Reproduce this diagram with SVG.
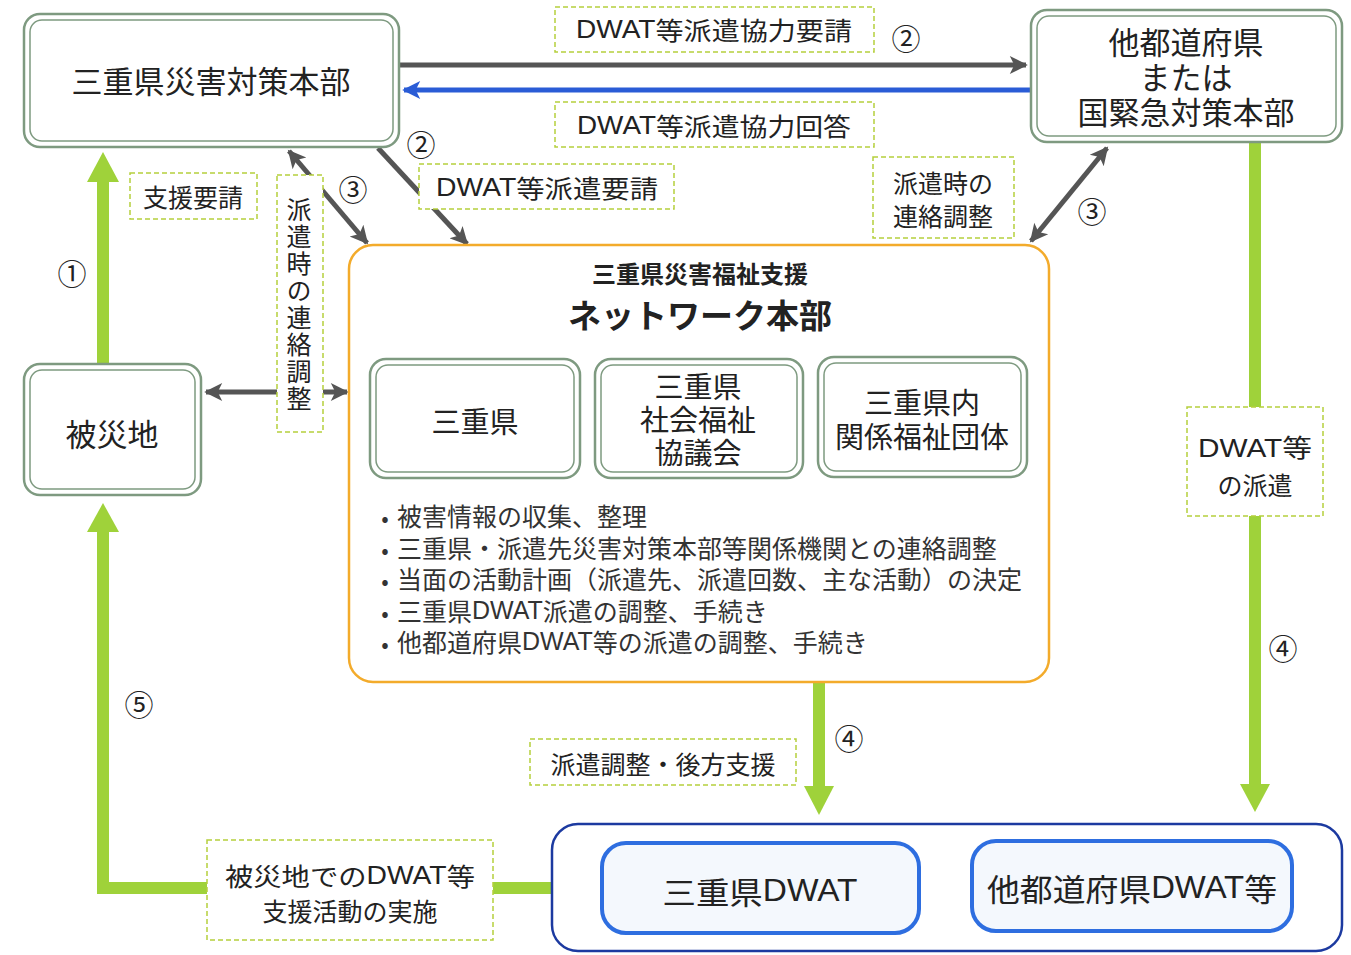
<svg xmlns="http://www.w3.org/2000/svg" width="1351" height="955" viewBox="0 0 1351 955">
<style>
text{font-family:"Noto Sans CJK JP","Noto Sans",sans-serif;fill:#222;dominant-baseline:central;text-anchor:middle}
.L{font-family:"Liberation Sans","Noto Sans CJK JP",sans-serif}
.o{fill:#fff;stroke:#7e9a80;stroke-width:2.5}
.i{fill:none;stroke:#7e9a80;stroke-width:1.5}
.lbl{fill:#fff;stroke:#b5cf3c;stroke-width:1.5;stroke-dasharray:5 3}
.g{stroke:#555;stroke-width:5;fill:none}
.gr{stroke:#9fd23a;stroke-width:12;fill:none}
.grh{fill:#9fd23a}
.n{font-size:29px}
.t30{font-size:31px}
.t25{font-size:25px}
.t29{font-size:29px}
.b{font-size:25px;text-anchor:start;fill:#333}
.bu{font-size:22px;fill:#333}
</style>
<defs>
<marker id="ah" viewBox="0 0 10 10" refX="9" refY="5" markerWidth="22" markerHeight="18" markerUnits="userSpaceOnUse" orient="auto-start-reverse"><path d="M0,0 L10,5 L0,10 L2.5,5 z" fill="#555"/></marker>
<marker id="ahb" viewBox="0 0 10 10" refX="9" refY="5" markerWidth="22" markerHeight="18" markerUnits="userSpaceOnUse" orient="auto-start-reverse"><path d="M0,0 L10,5 L0,10 L2.5,5 z" fill="#2a5cd6"/></marker>
</defs>
<rect width="1351" height="955" fill="#fff"/>

<g id="connectors">
<line class="g" x1="400" y1="65" x2="1026" y2="65" marker-end="url(#ah)"/>
<line x1="1031" y1="90" x2="404" y2="90" stroke="#2a5cd6" stroke-width="5" marker-end="url(#ahb)"/>
<line class="g" x1="378" y1="148" x2="467" y2="244" marker-end="url(#ah)"/>
<line class="g" x1="289" y1="151" x2="367" y2="243" marker-start="url(#ah)" marker-end="url(#ah)"/>
<line class="g" x1="1107" y1="148" x2="1031" y2="241" marker-start="url(#ah)" marker-end="url(#ah)"/>
<line class="g" x1="206" y1="392" x2="347" y2="392" marker-start="url(#ah)" marker-end="url(#ah)"/>
<line class="gr" x1="103" y1="363" x2="103" y2="180"/>
<polygon class="grh" points="87,182 119,182 103,152"/>
<line class="gr" x1="819" y1="683" x2="819" y2="788"/>
<polygon class="grh" points="804,786 834,786 819,815"/>
<line class="gr" x1="1255" y1="143" x2="1255" y2="786"/>
<polygon class="grh" points="1240,784 1270,784 1255,812"/>
<polyline class="gr" points="552,888 103,888 103,530"/>
<polygon class="grh" points="87,532 119,532 103,503"/>
</g>

<g id="n-mie-hq">
<rect class="o" x="24" y="14" width="375" height="133" rx="16"/>
<rect class="i" x="30" y="20" width="363" height="121" rx="12"/>
<text class="t30" x="211" y="79">三重県災害対策本部</text>
</g>

<g id="n-other-hq">
<rect class="o" x="1031" y="10" width="311" height="132" rx="16"/>
<rect class="i" x="1037" y="16" width="299" height="120" rx="12"/>
<text class="t30" x="1186" y="40">他都道府県<tspan x="1186" dy="35">または</tspan><tspan x="1186" dy="35">国緊急対策本部</tspan></text>
</g>

<g id="n-hisaichi">
<rect class="o" x="24" y="364" width="177" height="131" rx="16"/>
<rect class="i" x="30" y="370" width="165" height="119" rx="12"/>
<text class="t30" x="112" y="432">被災地</text>
</g>

<g id="n-network">
<rect x="349" y="245" width="700" height="437" rx="24" fill="#fff" stroke="#f3ab2b" stroke-width="2.5"/>
<text x="700" y="272" style="font-size:24px;font-weight:bold">三重県災害福祉支援</text>
<text x="700" y="314" style="font-size:33px;font-weight:bold">ネットワーク本部</text>
<text class="bu" x="385" y="516">•<tspan x="385" dy="31.5">•</tspan><tspan x="385" dy="31.5">•</tspan><tspan x="385" dy="31.5">•</tspan><tspan x="385" dy="31.5">•</tspan></text>
<text class="b" x="397" y="515">被害情報の収集、整理<tspan x="397" dy="31.5">三重県・派遣先災害対策本部等関係機関との連絡調整</tspan><tspan x="397" dy="31.5">当面の活動計画（派遣先、派遣回数、主な活動）の決定</tspan><tspan x="397" dy="31.5">三重県<tspan class="L">DWAT</tspan>派遣の調整、手続き</tspan><tspan x="397" dy="31.5">他都道府県<tspan class="L">DWAT</tspan>等の派遣の調整、手続き</tspan></text>
</g>

<g id="n-mie">
<rect class="o" x="370" y="359" width="210" height="119" rx="16"/>
<rect class="i" x="376" y="365" width="198" height="107" rx="12"/>
<text class="t29" x="475" y="420">三重県</text>
</g>

<g id="n-shakyo">
<rect class="o" x="595" y="359" width="208" height="119" rx="16"/>
<rect class="i" x="601" y="365" width="196" height="107" rx="12"/>
<text class="t29" x="698" y="385">三重県<tspan x="698" dy="33">社会福祉</tspan><tspan x="698" dy="33">協議会</tspan></text>
</g>

<g id="n-dantai">
<rect class="o" x="818" y="357" width="209" height="120" rx="16"/>
<rect class="i" x="824" y="363" width="197" height="108" rx="12"/>
<text class="t29" x="922" y="401">三重県内<tspan x="922" dy="34">関係福祉団体</tspan></text>
</g>

<g id="n-dwat">
<rect x="552" y="824" width="790" height="127" rx="26" fill="#fff" stroke="#1c3aa0" stroke-width="2.5"/>
</g>

<g id="n-mie-dwat">
<rect x="602" y="843" width="317" height="90" rx="24" fill="#f4f8fd" stroke="#2e6ee0" stroke-width="4"/>
<text x="760" y="890" style="font-size:31px" textLength="195" lengthAdjust="spacingAndGlyphs">三重県<tspan class="L">DWAT</tspan></text>
</g>

<g id="n-other-dwat">
<rect x="972" y="841" width="320" height="90" rx="24" fill="#f4f8fd" stroke="#2e6ee0" stroke-width="4"/>
<text x="1132" y="887" style="font-size:31px" textLength="290" lengthAdjust="spacingAndGlyphs">他都道府県<tspan class="L">DWAT</tspan>等</text>
</g>

<g id="labels">
<rect class="lbl" x="555" y="7" width="319" height="45"/>
<text class="t25" x="714" y="29" textLength="276" lengthAdjust="spacingAndGlyphs"><tspan class="L">DWAT</tspan>等派遣協力要請</text>
<rect class="lbl" x="555" y="102" width="319" height="45"/>
<text class="t25" x="714" y="125" textLength="274" lengthAdjust="spacingAndGlyphs"><tspan class="L">DWAT</tspan>等派遣協力回答</text>
<rect class="lbl" x="419" y="164" width="255" height="45"/>
<text class="t25" x="547" y="187" textLength="222" lengthAdjust="spacingAndGlyphs"><tspan class="L">DWAT</tspan>等派遣要請</text>
<rect class="lbl" x="873" y="157" width="141" height="81"/>
<text class="t25" x="943" y="182">派遣時の<tspan x="943" dy="33">連絡調整</tspan></text>
<rect class="lbl" x="130" y="173" width="127" height="46"/>
<text class="t25" x="193" y="196">支援要請</text>
<rect class="lbl" x="277" y="175" width="46" height="257"/>
<text class="t25" x="299" y="305" style="writing-mode:vertical-rl;letter-spacing:2px">派遣時の連絡調整</text>
<rect class="lbl" x="1187" y="407" width="136" height="109"/>
<text class="t25" x="1255" y="448"><tspan class="L" textLength="114" lengthAdjust="spacingAndGlyphs">DWAT等</tspan><tspan x="1255" dy="36">の派遣</tspan></text>
<rect class="lbl" x="530" y="739" width="266" height="46"/>
<text class="t25" x="663" y="763">派遣調整・後方支援</text>
<rect class="lbl" x="207" y="840" width="286" height="100"/>
<text class="t25" x="350" y="875"><tspan textLength="250" lengthAdjust="spacingAndGlyphs">被災地での<tspan class="L">DWAT</tspan>等</tspan><tspan x="350" dy="35">支援活動の実施</tspan></text>
<text class="n" x="906" y="37">②</text>
<text class="n" x="421" y="143">②</text>
<text class="n" x="353" y="188">③</text>
<text class="n" x="1092" y="210">③</text>
<text class="n" x="72" y="272">①</text>
<text class="n" x="849" y="737">④</text>
<text class="n" x="1283" y="647">④</text>
<text class="n" x="139" y="703">⑤</text>
</g>
</svg>
